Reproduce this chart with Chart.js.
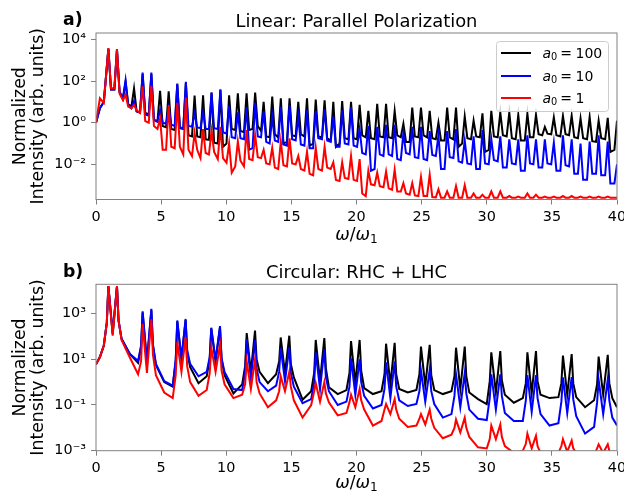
<!DOCTYPE html>
<html><head><meta charset="utf-8">
<script src="https://cdn.jsdelivr.net/npm/chart.js@4.4.1/dist/chart.umd.min.js"></script>
<style>
html,body{margin:0;padding:0;background:#fff}
body{width:624px;height:498px;overflow:hidden;position:relative}
canvas{position:absolute;left:0}
</style></head><body>
<canvas id="ca" width="624" height="249" style="top:0px"></canvas>
<canvas id="cb" width="624" height="249" style="top:249px"></canvas>
<script>
// ---------------- DATA ----------------
const a0Values = ['100', '10', '1'];
const seriesColors = ['#000000', '#0000ff', '#ff0000'];

// Panel a) Linear: Parallel Polarization  (omega/omega_1: each peak followed by two baseline points)
const xA = [0, 0.3, 0.6,
  0.95, 1.15, 1.41, 1.61, 1.81, 2.07, 2.27, 2.47, 2.72, 2.92, 3.12, 3.38,
  3.58, 3.78, 4.05, 4.25, 4.45, 4.72, 4.92, 5.12, 5.38, 5.58, 5.78, 6.04,
  6.24, 6.44, 6.7, 6.9, 7.1, 7.37, 7.57, 7.77, 8.02, 8.22, 8.42, 8.67,
  8.87, 9.07, 9.35, 9.55, 9.75, 10.02, 10.22, 10.42, 10.69, 10.89, 11.09, 11.36,
  11.56, 11.76, 12.02, 12.22, 12.42, 12.67, 12.87, 13.07, 13.33, 13.53, 13.73, 13.99,
  14.19, 14.39, 14.66, 14.86, 15.06, 15.33, 15.53, 15.73, 16.0, 16.2, 16.4, 16.67,
  16.87, 17.07, 17.35, 17.55, 17.75, 18.02, 18.22, 18.42, 18.7, 18.9, 19.1, 19.38,
  19.58, 19.78, 20.04, 20.24, 20.44, 20.71, 20.91, 21.11, 21.39, 21.59, 21.79, 22.07,
  22.27, 22.47, 22.73, 22.93, 23.13, 23.4, 23.6, 23.8, 24.08, 24.28, 24.48, 24.75,
  24.95, 25.15, 25.42, 25.62, 25.82, 26.09, 26.29, 26.49, 26.76, 26.96, 27.16, 27.44,
  27.64, 27.84, 28.11, 28.31, 28.51, 28.79, 28.99, 29.19, 29.47, 29.67, 29.87, 30.15,
  30.35, 30.55, 30.84, 31.04, 31.24, 31.53, 31.73, 31.93, 32.22, 32.42, 32.62, 32.92,
  33.12, 33.32, 33.58, 33.78, 33.98, 34.26, 34.46, 34.66, 34.95, 35.15, 35.35, 35.65,
  35.85, 36.05, 36.32, 36.52, 36.72, 37.0, 37.2, 37.4, 37.7, 37.9, 38.1, 38.39,
  38.59, 38.79, 39.09, 39.29, 39.49, 39.8, 40];

const blackA = [1, 5, 10,
  3500, 40, 40, 3200, 30, 14, 90, 8, 6, 45, 3.5, 3,
  220, 3, 2.5, 220, 1.4, 1.2, 34, 0.7, 0.6, 32, 0.5, 0.45,
  70, 0.55, 0.5, 80, 0.25, 0.22, 20, 0.22, 0.2, 21, 0.16, 0.15,
  28, 0.11, 0.1, 37, 0.07, 0.1, 21, 0.5, 0.45, 26, 0.4, 0.35,
  26, 0.45, 0.5, 28, 0.7, 0.4, 10, 0.22, 0.2, 18, 0.28, 0.2,
  15, 0.1, 0.12, 15, 0.25, 0.22, 10, 0.28, 0.22, 15, 0.08, 0.1,
  13, 0.22, 0.2, 12, 0.18, 0.14, 10, 0.07, 0.1, 11, 0.18, 0.16,
  10, 0.18, 0.16, 7.2, 0.25, 0.2, 3.7, 0.18, 0.16, 8, 0.22, 0.2,
  8, 0.2, 0.18, 3.7, 0.25, 0.2, 0.9, 0.12, 0.12, 5.4, 0.22, 0.2,
  5.4, 0.25, 0.2, 3.7, 0.18, 0.16, 1, 0.14, 0.14, 5.4, 0.2, 0.16,
  5.4, 0.07, 0.1, 2, 0.18, 0.16, 1.26, 0.22, 0.2, 2.8, 0.04, 0.05,
  3.7, 0.22, 0.2, 3.1, 0.25, 0.22, 3.1, 0.18, 0.16, 2.4, 0.14, 0.14,
  2.7, 0.2, 0.2, 2.4, 0.28, 0.25, 0.63, 0.3, 0.28, 1.8, 0.25, 0.22,
  2.1, 0.28, 0.25, 2.2, 0.2, 0.18, 1.6, 0.18, 0.16, 1.9, 0.13, 0.12,
  1.26, 0.18, 0.16, 1.7, 0.04, 0.05, 1.26];

const blueA = [1, 5, 10,
  3800, 40, 40, 3400, 30, 16, 110, 7, 5, 11, 3.5, 3.2,
  260, 2.5, 2.2, 260, 1.3, 1.1, 4, 1, 0.9, 5, 0.8, 0.7,
  76, 0.6, 0.55, 93, 0.7, 0.65, 2.8, 0.6, 0.55, 3.2, 0.5, 0.5,
  28, 0.55, 0.5, 40, 0.35, 0.3, 6.3, 0.2, 0.18, 3.2, 0.18, 0.16,
  5.6, 0.05, 0.06, 9, 0.22, 0.2, 3.5, 0.12, 0.1, 2, 0.14, 0.12,
  5.9, 0.09, 0.08, 7, 0.16, 0.14, 2, 0.09, 0.08, 4, 0.06, 0.06,
  3.7, 0.18, 0.16, 4.5, 0.14, 0.12, 2, 0.07, 0.07, 4, 0.1, 0.09,
  5.6, 0.08, 0.07, 0.5, 0.035, 0.03, 0.7, 0.005, 0.006, 0.63, 0.03, 0.025,
  0.8, 0.03, 0.025, 0.8, 0.018, 0.016, 0.32, 0.035, 0.03, 0.63, 0.022, 0.02,
  0.63, 0.018, 0.016, 0.4, 0.028, 0.025, 0.25, 0.006, 0.006, 0.4, 0.022, 0.02,
  0.5, 0.014, 0.012, 0.14, 0.011, 0.01, 0.22, 0.006, 0.006, 0.45, 0.011, 0.01,
  0.16, 0.016, 0.014, 0.22, 0.007, 0.007, 0.16, 0.011, 0.01, 0.16, 0.005, 0.005,
  0.25, 0.011, 0.01, 0.16, 0.007, 0.007, 0.16, 0.011, 0.01, 0.11, 0.005, 0.005,
  0.25, 0.009, 0.008, 0.16, 0.0035, 0.0035, 0.1, 0.0018, 0.0018, 0.126, 0.0035, 0.0035,
  0.25, 0.003, 0.003, 0.126, 0.0012, 0.0012, 0.01];

const redA = [1, 15, 9,
  3800, 45, 45, 3400, 25, 12, 22, 6, 5, 7, 4, 3,
  56, 1.2, 1, 60, 0.7, 0.5, 1.6, 0.05, 0.05, 7, 0.07, 0.06,
  9, 0.07, 0.03, 16, 0.05, 0.025, 0.32, 0.05, 0.02, 0.5, 0.035, 0.03,
  0.4, 0.04, 0.018, 0.63, 0.02, 0.012, 0.1, 0.004, 0.008, 0.126, 0.015, 0.008,
  0.45, 0.018, 0.016, 0.25, 0.022, 0.02, 0.05, 0.011, 0.01, 0.063, 0.007, 0.006,
  0.126, 0.009, 0.008, 0.18, 0.011, 0.01, 0.025, 0.006, 0.005, 0.04, 0.0035, 0.003,
  0.063, 0.006, 0.005, 0.07, 0.007, 0.006, 0.0126, 0.0018, 0.0016, 0.0126, 0.0022, 0.002,
  0.025, 0.0018, 0.0016, 0.018, 0.0004, 0.0003, 0.005, 0.0011, 0.001, 0.004, 0.0009, 0.0008,
  0.0045, 0.0007, 0.0006, 0.0056, 0.0005, 0.0005, 0.00126, 0.0004, 0.00035, 0.00126, 0.00032, 0.0003,
  0.0025, 0.0003, 0.0003, 0.0032, 0.00027, 0.00026, 0.00063, 0.00025, 0.00025, 0.0005, 0.00025, 0.00025,
  0.0009, 0.00025, 0.00025, 0.001, 0.00025, 0.00025, 0.0004, 0.00025, 0.00025, 0.00035, 0.00025, 0.00025,
  0.0005, 0.00025, 0.00025, 0.0005, 0.00025, 0.00025, 0.0003, 0.00025, 0.00025, 0.00028, 0.00025, 0.00025,
  0.0004, 0.00025, 0.00025, 0.00035, 0.00025, 0.00025, 0.00028, 0.00025, 0.00025, 0.00028, 0.00025, 0.00025,
  0.0003, 0.00025, 0.00025, 0.0003, 0.00025, 0.00025, 0.00028, 0.00025, 0.00025, 0.00028, 0.00025, 0.00025,
  0.00028, 0.00025, 0.00025, 0.00028, 0.00025, 0.00025, 0.00025];

// Panel b) Circular: RHC + LHC
const xB = [0, 0.3,
  0.6, 0.83, 0.95, 1.28, 1.61, 1.73, 1.96, 2.6,
  3.23, 3.46, 3.58, 3.91, 4.25, 4.37, 4.6, 5.24,
  5.89, 6.12, 6.24, 6.56, 6.88, 7.0, 7.23, 7.87,
  8.5, 8.73, 8.85, 9.18, 9.52, 9.64, 9.87, 10.55,
  11.22, 11.45, 11.57, 11.89, 12.21, 12.33, 12.56, 13.2,
  13.83, 14.06, 14.18, 14.51, 14.84, 14.96, 15.19, 15.86,
  16.52, 16.75, 16.87, 17.2, 17.53, 17.65, 17.88, 18.56,
  19.23, 19.46, 19.58, 19.91, 20.24, 20.36, 20.59, 21.26,
  21.92, 22.15, 22.27, 22.6, 22.93, 23.05, 23.28, 23.94,
  24.6, 24.83, 24.95, 25.28, 25.62, 25.74, 25.97, 26.63,
  27.29, 27.52, 27.64, 27.97, 28.31, 28.43, 28.66, 29.33,
  30.0, 30.23, 30.35, 30.7, 31.04, 31.16, 31.39, 32.08,
  32.77, 33.0, 33.12, 33.45, 33.78, 33.9, 34.13, 34.82,
  35.5, 35.73, 35.85, 36.18, 36.52, 36.64, 36.87, 37.55,
  38.24, 38.47, 38.59, 38.94, 39.29, 39.41, 39.64, 40];

const blackB = [6, 12.5,
  40, 400, 16000, 125, 16000, 500, 80, 17,
  7, 32, 1100, 7, 1400, 40, 5.6, 1,
  0.63, 8, 450, 10, 520, 20, 4.5, 0.9,
  1.8, 10, 220, 8, 250, 10, 2, 0.32,
  0.8, 5, 140, 2.8, 180, 10, 2.8, 0.9,
  2.2, 8, 90, 2.5, 107, 6.3, 1.6, 0.17,
  0.4, 2.5, 70, 1.1, 85, 4, 0.6, 0.3,
  0.45, 2.5, 62, 0.9, 70, 3.2, 0.55, 0.3,
  0.4, 2.2, 48, 0.8, 52, 2.2, 0.5, 0.35,
  0.45, 2.2, 36, 0.7, 43, 2, 0.45, 0.3,
  0.4, 1.8, 32, 0.5, 36, 1.8, 0.35, 0.18,
  0.11, 1.1, 20, 0.35, 23, 1.2, 0.28, 0.126,
  0.2, 0.9, 20, 0.32, 23, 1.1, 0.28, 0.2,
  0.22, 0.9, 14.5, 0.28, 17, 0.9, 0.22, 0.08,
  0.16, 0.8, 13, 0.28, 15.5, 0.9, 0.2, 0.08];

const blueB = [6, 12.5,
  40, 400, 16000, 150, 16000, 500, 80, 17,
  8.5, 40, 1250, 8, 1600, 45, 6.3, 1.1,
  0.7, 10, 500, 11, 580, 25, 6.3, 1.8,
  2.8, 12.6, 240, 9, 280, 11, 2.8, 0.5,
  0.45, 2.5, 76, 1.4, 70, 4, 1, 0.4,
  0.7, 2.8, 32, 1.1, 32, 2.5, 0.63, 0.12,
  0.18, 1, 20, 0.5, 28, 1.6, 0.4, 0.1,
  0.14, 0.63, 11, 0.28, 10, 1, 0.25, 0.07,
  0.1, 0.5, 7.4, 0.2, 8, 0.63, 0.16, 0.09,
  0.11, 0.4, 3.2, 0.14, 3.5, 0.4, 0.11, 0.028,
  0.04, 0.25, 2.2, 0.08, 2.5, 0.32, 0.063, 0.025,
  0.022, 0.2, 2.2, 0.063, 2.2, 0.25, 0.045, 0.02,
  0.02, 0.16, 2, 0.05, 2, 0.2, 0.04, 0.0126,
  0.016, 0.14, 1.6, 0.045, 1.65, 0.18, 0.032, 0.0056,
  0.011, 0.126, 1.26, 0.04, 1.3, 0.16, 0.028, 0.0126];

const redB = [6, 12.5,
  40, 400, 16000, 107, 16000, 500, 70, 12,
  2.2, 8, 350, 2.5, 560, 16, 2, 0.35,
  0.2, 2, 56, 2.8, 90, 5, 1, 0.25,
  0.45, 2.5, 32, 2.8, 42, 3.2, 0.8, 0.2,
  0.28, 0.8, 8, 0.5, 10, 1, 0.32, 0.08,
  0.16, 0.4, 1.8, 0.4, 2.8, 0.63, 0.16, 0.028,
  0.1, 0.4, 0.9, 0.14, 1, 0.32, 0.13, 0.035,
  0.045, 0.13, 0.28, 0.08, 0.5, 0.16, 0.063, 0.0126,
  0.02, 0.063, 0.11, 0.04, 0.18, 0.063, 0.025, 0.011,
  0.0126, 0.025, 0.04, 0.014, 0.063, 0.025, 0.01, 0.0035,
  0.005, 0.01, 0.023, 0.0063, 0.028, 0.01, 0.004, 0.0014,
  0.00126, 0.0032, 0.0126, 0.0032, 0.014, 0.004, 0.0016, 0.0008,
  0.001, 0.002, 0.0056, 0.00126, 0.0045, 0.0016, 0.0008, 0.0008,
  0.0008, 0.0016, 0.0032, 0.0009, 0.0028, 0.00126, 0.0008, 0.00063,
  0.00063, 0.00126, 0.0019, 0.0008, 0.0019, 0.001, 0.00063, 0.00063];

const xTicks = [0, 5, 10, 15, 20, 25, 30, 35, 40];
const yTickValsA = [1e-2, 1, 1e2, 1e4];
const yTickLabelsA = ['10⁻²', '10⁰', '10²', '10⁴'];
const yTickValsB = [1e-3, 1e-1, 1e1, 1e3];
const yTickLabelsB = ['10⁻³', '10⁻¹', '10¹', '10³'];

const titleA = 'Linear: Parallel Polarization';
const titleB = 'Circular: RHC + LHC';
const yLabelLines = ['Normalized', 'Intensity (arb. units)'];

// ---------------- RENDERING ----------------
[[xA, blackA, blueA, redA], [xB, blackB, blueB, redB]].forEach(g => {
  g.slice(1).forEach(s => { if (s.length !== g[0].length) throw new Error('length mismatch ' + s.length + ' vs ' + g[0].length); });
});

const FONT = '"DejaVu Sans", "Liberation Sans", sans-serif';
const FRAME = '#808080';
const BIG = 17.3;
const TITLE_SIZE = 17.9;

function roundRectPath(ctx, x, y, w, h, r) {
  ctx.beginPath();
  ctx.moveTo(x + r, y);
  ctx.lineTo(x + w - r, y); ctx.arcTo(x + w, y, x + w, y + r, r);
  ctx.lineTo(x + w, y + h - r); ctx.arcTo(x + w, y + h, x + w - r, y + h, r);
  ctx.lineTo(x + r, y + h); ctx.arcTo(x, y + h, x, y + h - r, r);
  ctx.lineTo(x, y + r); ctx.arcTo(x, y, x + r, y, r);
  ctx.closePath();
}

function makeDecorPlugin(spec) {
  return {
    id: 'decor' + spec.panel,
    afterDatasetsDraw(chart) {
      const ctx = chart.ctx, a = chart.chartArea;
      ctx.save();
      ctx.strokeStyle = FRAME; ctx.lineWidth = 1;
      ctx.strokeRect(a.left, a.top, a.right - a.left, a.bottom - a.top);
      if (spec.legend) {
        roundRectPath(ctx, 496.5, 41.5, 112, 70, 3);
        ctx.fillStyle = 'rgba(255,255,255,0.8)'; ctx.fill();
        ctx.strokeStyle = '#cccccc'; ctx.lineWidth = 1; ctx.stroke();
        const rows = [53, 76, 98];
        chart.data.datasets.forEach((ds, i) => {
          const y = rows[i];
          ctx.strokeStyle = ds.borderColor; ctx.lineWidth = 2;
          ctx.beginPath(); ctx.moveTo(501, y); ctx.lineTo(531, y); ctx.stroke();
          ctx.fillStyle = '#000'; ctx.textAlign = 'left'; ctx.textBaseline = 'alphabetic';
          let x = 542.5; const base = y + 4.5;
          ctx.font = 'italic 14px ' + FONT; ctx.fillText('a', x, base); x += ctx.measureText('a').width;
          ctx.font = '9.8px ' + FONT; ctx.fillText('0', x, base + 2.8); x += ctx.measureText('0').width + 3;
          ctx.font = '14px ' + FONT; ctx.fillText('=', x, base); x += ctx.measureText('=').width + 3.5;
          ctx.fillText(a0Values[i], x, base);
        });
      }
      ctx.restore();
    },
    afterDraw(chart) {
      const ctx = chart.ctx, a = chart.chartArea;
      const cx = (a.left + a.right) / 2;
      ctx.save();
      ctx.fillStyle = '#000';
      ctx.textBaseline = 'alphabetic';
      ctx.font = 'bold ' + BIG + 'px ' + FONT; ctx.textAlign = 'left';
      ctx.fillText(spec.panel, 63, spec.labelY);
      ctx.font = TITLE_SIZE + 'px ' + FONT; ctx.textAlign = 'center';
      ctx.fillText(spec.title, cx, spec.titleY);
      const fI = 'italic ' + BIG + 'px ' + FONT, fN = BIG + 'px ' + FONT, fS = '12.1px ' + FONT;
      ctx.font = fI; const w1 = ctx.measureText('ω').width;
      ctx.font = fN; const w2 = ctx.measureText('/').width;
      ctx.font = fS; const w4 = ctx.measureText('1').width;
      let x = cx - (w1 * 2 + w2 + w4) / 2;
      ctx.textAlign = 'left';
      ctx.font = fI; ctx.fillText('ω', x, spec.xLabelY); x += w1;
      ctx.font = fN; ctx.fillText('/', x, spec.xLabelY); x += w2;
      ctx.font = fI; ctx.fillText('ω', x, spec.xLabelY); x += w1;
      ctx.font = fS; ctx.fillText('1', x, spec.xLabelY + 3.5);
      ctx.translate(0, (a.top + a.bottom) / 2);
      ctx.rotate(-Math.PI / 2);
      ctx.font = fN; ctx.textAlign = 'center';
      ctx.fillText(yLabelLines[0], 0, 24.5);
      ctx.fillText(yLabelLines[1], 0, 42.8);
      ctx.restore();
    }
  };
}

function makeChart(canvasId, spec) {
  const labels = a0Values.map(v => 'a₀ = ' + v);
  const datasets = spec.series.map((vals, i) => ({
    label: labels[i],
    data: spec.x.map((x, j) => ({ x: x, y: vals[j] })),
    borderColor: seriesColors[i],
    backgroundColor: seriesColors[i],
    borderWidth: 2,
    pointRadius: 0,
    fill: false,
    tension: 0,
    order: 3 - i
  }));
  return new Chart(document.getElementById(canvasId), {
    type: 'line',
    data: { datasets },
    options: {
      responsive: false, animation: false, devicePixelRatio: 1,
      layout: { padding: { left: 0, right: 7, top: spec.top, bottom: 0 } },
      plugins: { legend: { display: false }, tooltip: { enabled: false }, title: { display: false } },
      scales: {
        x: {
          type: 'linear', min: 0, max: 40, bounds: 'data',
          afterBuildTicks(s) { s.ticks = xTicks.map(v => ({ value: v })); },
          ticks: { font: { size: 14.4, family: FONT }, color: '#000', padding: 4, maxRotation: 0, autoSkip: false },
          grid: { drawOnChartArea: false, drawTicks: true, tickLength: 5, color: FRAME, lineWidth: 1 },
          border: { display: false },
          afterFit(s) { s.height = spec.xAxisH; s.paddingLeft = 0; s.paddingRight = 0; }
        },
        y: {
          type: 'logarithmic', min: spec.ymin, max: spec.ymax, bounds: 'data',
          afterBuildTicks(s) { s.ticks = spec.tickVals.map(v => ({ value: v })); },
          ticks: { callback: (v, i) => spec.tickLabels[i], font: { size: 14.4, family: FONT }, color: '#000', padding: 5, autoSkip: false },
          grid: { drawOnChartArea: false, drawTicks: true, tickLength: 5, color: FRAME, lineWidth: 1 },
          border: { display: false },
          afterFit(s) { s.width = 96; s.paddingTop = 0; s.paddingBottom = 0; }
        }
      }
    },
    plugins: [makeDecorPlugin(spec)]
  });
}

makeChart('ca', {
  panel: 'a)', title: titleA, legend: true,
  x: xA, series: [blackA, blueA, redA],
  top: 33, xAxisH: 49.5, ymin: 2.05e-4, ymax: 2.05e4,
  tickVals: yTickValsA, tickLabels: yTickLabelsA,
  labelY: 25, titleY: 27.3, xLabelY: 239.5
});
makeChart('cb', {
  panel: 'b)', title: titleB, legend: false,
  x: xB, series: [blackB, blueB, redB],
  top: 35.3, xAxisH: 47.3, ymin: 1e-3, ymax: 1.9e4,
  tickVals: yTickValsB, tickLabels: yTickLabelsB,
  labelY: 28, titleY: 29.3, xLabelY: 238.8
});
</script></body></html>
